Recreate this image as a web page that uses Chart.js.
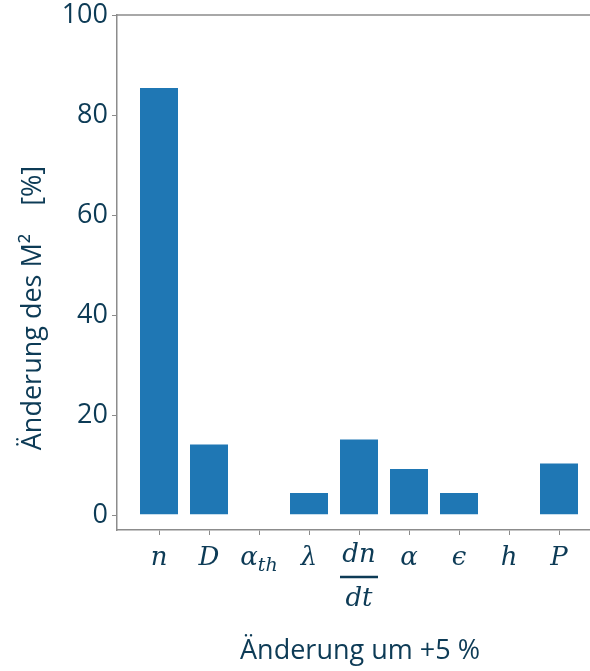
<!DOCTYPE html>
<html>
<head>
<meta charset="utf-8">
<script src="https://cdn.jsdelivr.net/npm/chart.js@4"></script>
<style>
  html, body { margin: 0; padding: 0; background: #fff; overflow: hidden; }
  #wrap { width: 601px; height: 671px; position: relative; }
</style>
</head>
<body>
<div id="wrap"><canvas id="chart"></canvas></div>
<script>
// Kategorien (Parameter) und Änderung des M² in %
const categories = ['n', 'D', 'α_th', 'λ', 'dn/dt', 'α', 'ϵ', 'h', 'P'];
const changeValues = [85.6, 14.3, 0, 4.6, 15.3, 9.4, 4.6, 0, 10.5];
const yTicks = [0, 20, 40, 60, 80, 100];

const textColor = '#0d3b56';
const spineColor = '#8c8c8c';
const barColor = '#1f77b4';

// Rahmen oben + Achsentitel + Formel-Beschriftungen
const extras = {
    id: 'extras',
    afterDraw(chart) {
        const ctx = chart.ctx;
        const area = chart.chartArea;
        const xs = chart.scales.x;
        ctx.save();
        ctx.strokeStyle = spineColor;
        ctx.lineWidth = 1.5;
        ctx.beginPath();
        ctx.moveTo(area.left, area.top);
        ctx.lineTo(area.right, area.top);
        ctx.lineTo(area.right, area.bottom);
        ctx.stroke();

        ctx.fillStyle = textColor;
        ctx.strokeStyle = textColor;
        const mathFont = 'italic 26px "DejaVu Serif"';
        const subFont = 'italic 19px "DejaVu Serif"';
        const base = 565;
        categories.forEach((lab, i) => {
            const cx = xs.getPixelForValue(i);
            ctx.textBaseline = 'alphabetic';
            if (lab.includes('/')) {
                const [num, den] = lab.split('/');
                ctx.font = mathFont;
                ctx.textAlign = 'center';
                ctx.fillText(num, cx, 562);
                ctx.fillText(den, cx, 606);
                ctx.lineWidth = 2.5;
                ctx.beginPath();
                ctx.moveTo(cx - 19, 577);
                ctx.lineTo(cx + 19, 577);
                ctx.stroke();
            } else if (lab.includes('_')) {
                const [main, sub] = lab.split('_');
                ctx.font = mathFont;
                const w1 = ctx.measureText(main).width;
                ctx.font = subFont;
                const w2 = ctx.measureText(sub).width;
                const x0 = cx - (w1 + w2) / 2;
                ctx.textAlign = 'left';
                ctx.font = mathFont;
                ctx.fillText(main, x0, base);
                ctx.font = subFont;
                ctx.fillText(sub, x0 + w1, base + 6);
            } else {
                ctx.font = mathFont;
                ctx.textAlign = 'center';
                ctx.fillText(lab, cx, base);
            }
        });

        ctx.font = '27px "Open Sans"';
        ctx.textAlign = 'center';
        ctx.textBaseline = 'middle';
        ctx.fillText('Änderung um +5 %', 360, 651);

        ctx.translate(33, 308);
        ctx.rotate(-Math.PI / 2);
        ctx.fillText('Änderung des M²    [%]', 0, 0);
        ctx.restore();
    }
};

new Chart(document.getElementById('chart'), {
    type: 'bar',
    data: {
        datasets: [{
            data: changeValues.map((v, i) => ({ x: i, y: v })),
            backgroundColor: barColor,
            borderColor: 'rgba(255,255,255,0.35)',
            borderWidth: 1,
            categoryPercentage: 0.8,
            barPercentage: 1.0
        }]
    },
    options: {
        responsive: true,
        maintainAspectRatio: false,
        animation: false,
        layout: { padding: { top: 0, left: 0, right: 0, bottom: 0 } },
        plugins: { legend: { display: false }, tooltip: { enabled: false } },
        scales: {
            x: {
                type: 'linear',
                min: -0.84,
                max: 8.84,
                offset: false,
                afterBuildTicks: (s) => { s.ticks = categories.map((c, i) => ({ value: i })); },
                afterFit: (s) => { s.height = 141; },
                grid: { display: true, drawOnChartArea: false, drawTicks: true, tickLength: 5, color: spineColor, offset: false },
                border: { display: true, color: spineColor, width: 1.5 },
                ticks: { callback: () => '', padding: 0 }
            },
            y: {
                min: -3,
                max: 100,
                afterBuildTicks: (s) => { s.ticks = yTicks.map(v => ({ value: v })); },
                afterFit: (s) => { s.width = 117; s.paddingTop = 15; },
                grid: { display: true, drawOnChartArea: false, drawTicks: true, tickLength: 5, color: spineColor },
                border: { display: true, color: spineColor, width: 1.5 },
                ticks: { color: textColor, font: { family: 'Open Sans', size: 27 }, padding: 4 }
            }
        }
    },
    plugins: [extras]
});
</script>
</body>
</html>
